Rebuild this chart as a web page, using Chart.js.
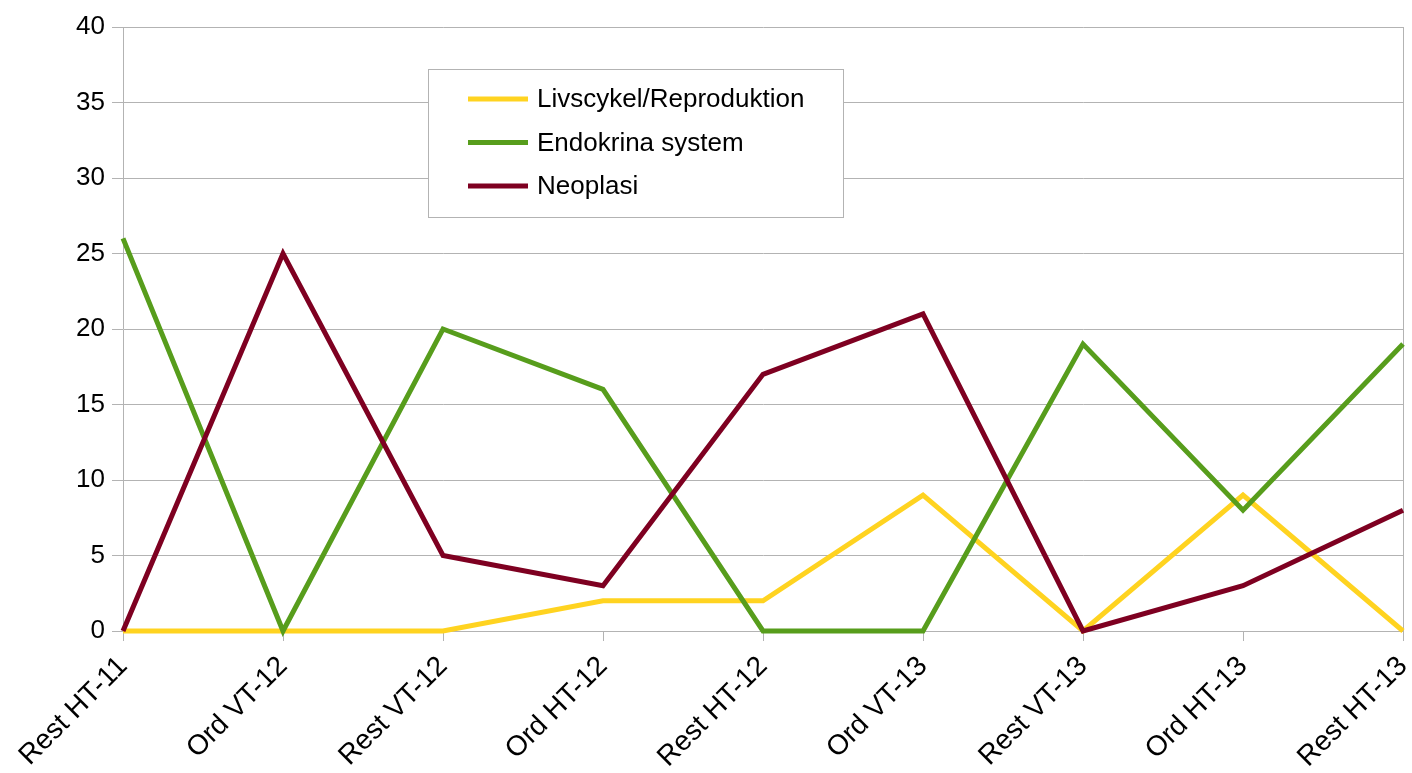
<!DOCTYPE html>
<html>
<head>
<meta charset="utf-8">
<script src="https://cdn.jsdelivr.net/npm/chart.js@4/dist/chart.umd.min.js"></script>
<style>
  html, body { margin: 0; padding: 0; background: #ffffff; }
  #wrap { width: 1412px; height: 773px; position: relative; }
</style>
</head>
<body>
<div id="wrap"><canvas id="c" width="1412" height="773"></canvas></div>
<script>
const categories = ["Rest HT-11", "Ord VT-12", "Rest VT-12", "Ord HT-12", "Rest HT-12", "Ord VT-13", "Rest VT-13", "Ord HT-13", "Rest HT-13"];
const seriesNames = ["Livscykel/Reproduktion", "Endokrina system", "Neoplasi"];
const livscykel = [0, 0, 0, 2, 2, 9, 0, 9, 0];
const endokrina = [26, 0, 20, 16, 0, 0, 19, 8, 19];
const neoplasi = [0, 25, 5, 3, 17, 21, 0, 3, 8];
const seriesColors = ["#ffd320", "#579d1c", "#7e0021"];
const yTicks = [0, 5, 10, 15, 20, 25, 30, 35, 40];

const FONT = "'Liberation Sans', Arial, sans-serif";
const gridColor = "#b3b3b3";

const legendPlugin = {
  id: "boxLegend",
  afterDraw(chart) {
    const ctx = chart.ctx;
    const ca = chart.chartArea;
    const bx = ca.left + 305, by = ca.top + 42, bw = 415, bh = 148;
    ctx.save();
    ctx.fillStyle = "#ffffff";
    ctx.fillRect(bx, by, bw, bh);
    ctx.strokeStyle = gridColor;
    ctx.lineWidth = 1;
    ctx.strokeRect(bx + 0.5, by + 0.5, bw, bh);
    ctx.font = "26px " + FONT;
    ctx.textBaseline = "middle";
    ctx.fillStyle = "#000000";
    chart.data.datasets.forEach((ds, i) => {
      const y = by + 30 + i * 43.5;
      ctx.strokeStyle = ds.borderColor;
      ctx.lineWidth = 5;
      ctx.beginPath();
      ctx.moveTo(bx + 40, y);
      ctx.lineTo(bx + 100, y);
      ctx.stroke();
      ctx.fillText(ds.label, bx + 109, y + 1);
    });
    ctx.restore();
  }
};

const seriesData = [livscykel, endokrina, neoplasi];
const datasets = seriesNames.map((name, i) => ({
  label: name,
  data: seriesData[i],
  borderColor: seriesColors[i],
  backgroundColor: seriesColors[i],
  borderWidth: 5,
  pointRadius: 0,
  pointHoverRadius: 0,
  tension: 0,
  fill: false,
  clip: false,
  order: 3 - i
}));

new Chart(document.getElementById("c"), {
  type: "line",
  data: { labels: categories, datasets },
  options: {
    responsive: false,
    animation: false,
    devicePixelRatio: 1,
    layout: { padding: { top: 27, right: 9, left: 0, bottom: 0 } },
    plugins: { legend: { display: false }, tooltip: { enabled: false } },
    scales: {
      x: {
        offset: false,
        border: { display: true, color: gridColor, width: 1 },
        grid: {
          drawOnChartArea: true,
          color: (c) => (c.index === categories.length - 1 ? gridColor : "rgba(0,0,0,0)"),
          tickColor: gridColor,
          tickLength: 10
        },
        ticks: {
          autoSkip: false,
          maxRotation: 45,
          minRotation: 45,
          padding: 9,
          color: "#000000",
          font: { family: FONT, size: 28 }
        },
        afterFit(s) { s.paddingLeft = 0; s.paddingRight = 0; s.height = 773 - 631; }
      },
      y: {
        min: 0,
        max: 40,
        afterBuildTicks(s) { s.ticks = yTicks.map(v => ({ value: v })); },
        border: { display: true, color: gridColor, width: 1 },
        grid: { color: gridColor, tickColor: gridColor, tickLength: 11 },
        ticks: {
          padding: 7,
          color: "#000000",
          font: { family: FONT, size: 26 }
        },
        afterFit(s) { s.width = 123; s.paddingTop = 0; s.paddingBottom = 0; }
      }
    }
  },
  plugins: [legendPlugin]
});
</script>
</body>
</html>
